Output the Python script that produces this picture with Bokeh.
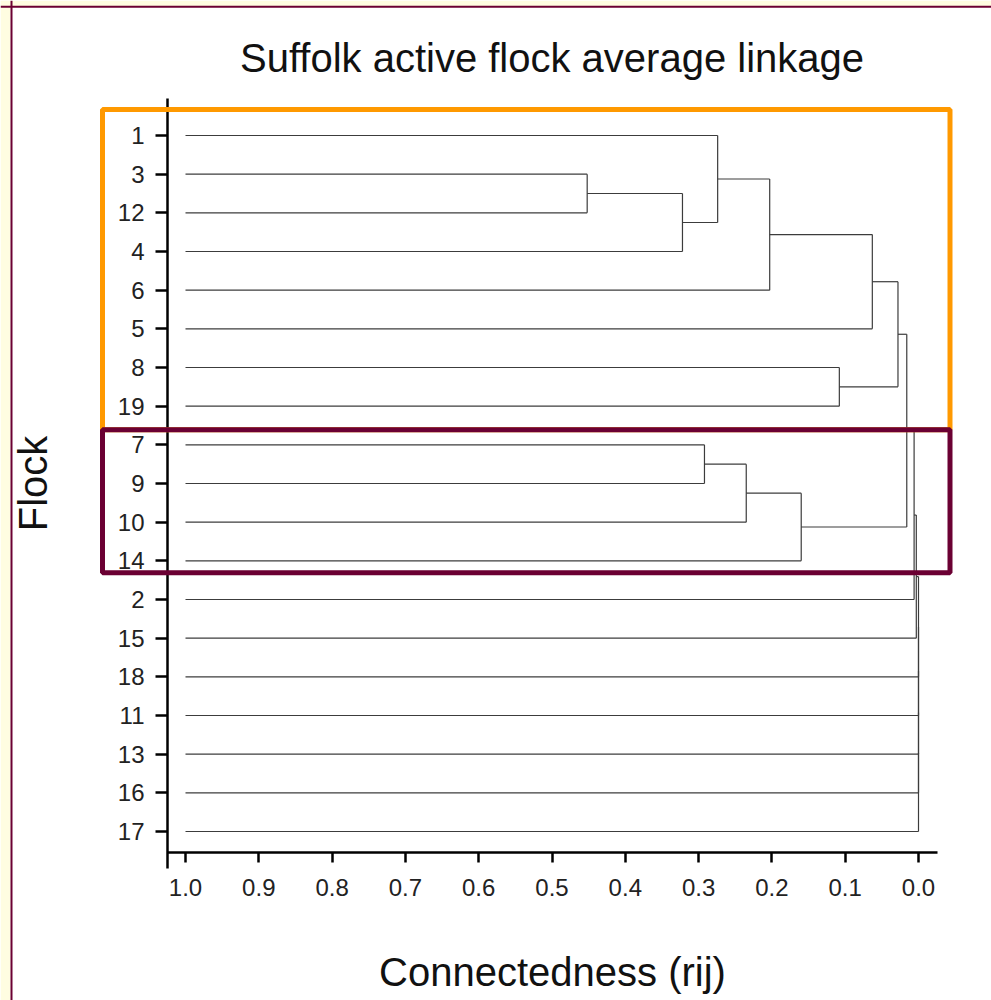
from bokeh.plotting import figure
from bokeh.models import (Range1d, LinearAxis, FixedTicker, BoxAnnotation, Span,
                          Label, ColumnDataSource, PrintfTickFormatter)
from bokeh.embed import file_html
from bokeh.resources import INLINE

# ---------------- data ----------------
leaves = ["1", "3", "12", "4", "6", "5", "8", "19", "7", "9", "10", "14",
          "2", "15", "18", "11", "13", "16", "17"]
# merges in order; new cluster k is named "c<k>"
merge_left = ["3", "c0", "1", "c2", "c3", "8", "c4", "7", "c7", "c8",
              "c6", "c10", "c11", "c12", "c13", "c14", "c15", "c16"]
merge_right = ["12", "4", "c1", "6", "5", "19", "c5", "9", "10", "14",
               "c9", "2", "15", "18", "11", "13", "16", "17"]
merge_height = [0.452, 0.322, 0.274, 0.203, 0.063, 0.108, 0.028, 0.292, 0.235, 0.160,
                0.016, 0.006, 0.003, 0.0, 0.0, 0.0, 0.0, 0.0]
leaf_start = 1.0
x_ticks = [1.0, 0.9, 0.8, 0.7, 0.6, 0.5, 0.4, 0.3, 0.2, 0.1, 0.0]
orange_group = ["1", "19"]     # first and last leaf of the orange box
maroon_group = ["7", "14"]     # first and last leaf of the maroon box

# ---------------- layout constants (pixels) ----------------
W, H = 991, 1000
X_AT_ONE, PX_PER_UNIT = 185.0, 733.0
Y_AT_FIRST, PX_PER_LEAF = 135.0, 38.667


def px2v(px):
    return 1.0 - (px - X_AT_ONE) / PX_PER_UNIT


def py2i(py):
    return (py - Y_AT_FIRST) / PX_PER_LEAF


# ---------------- dendrogram geometry from data ----------------
pos_y = {lab: i for i, lab in enumerate(leaves)}
pos_x = {lab: leaf_start for lab in leaves}
x0, y0, x1, y1 = [], [], [], []
for k, (a, b, h) in enumerate(zip(merge_left, merge_right, merge_height)):
    ya, yb = pos_y[a], pos_y[b]
    # horizontal branches
    x0 += [pos_x[a], pos_x[b]]
    y0 += [ya, yb]
    x1 += [h, h]
    y1 += [ya, yb]
    # vertical connector
    x0.append(h); y0.append(ya); x1.append(h); y1.append(yb)
    name = "c%d" % k
    pos_y[name] = (ya + yb) / 2.0
    pos_x[name] = h

src = ColumnDataSource(dict(x0=x0, y0=y0, x1=x1, y1=y1))

p = figure(width=W, height=H,
           x_range=Range1d(px2v(0), px2v(W)),
           y_range=Range1d(py2i(H), py2i(0)),
           x_axis_location=None, y_axis_location=None,
           toolbar_location=None, output_backend="svg", title=None,
           min_border=0, background_fill_color="white",
           border_fill_color="white", outline_line_color=None)
p.grid.grid_line_color = None

# page frame: cream margin with maroon edge
CREAM = "#FFFDE1"
MAROON = "#6B0033"
p.add_layout(BoxAnnotation(left=px2v(0), right=px2v(10), top=py2i(0), bottom=py2i(H),
                           fill_color=CREAM, fill_alpha=1, line_alpha=0, level="underlay"))
p.add_layout(BoxAnnotation(left=px2v(0), right=px2v(W), top=py2i(0), bottom=py2i(5.5),
                           fill_color=CREAM, fill_alpha=1, line_alpha=0, level="underlay"))
p.add_layout(Span(location=px2v(11), dimension="height", line_color=MAROON, line_width=2))
p.add_layout(Span(location=py2i(6.3), dimension="width", line_color=MAROON, line_width=2))

p.segment("x0", "y0", "x1", "y1", source=src, line_color="#3c3c3c", line_width=1.2)

FONT = "Liberation Sans"

xa = LinearAxis(fixed_location=py2i(852), bounds=(px2v(937), px2v(167)),
                ticker=FixedTicker(ticks=x_ticks, minor_ticks=[]),
                formatter=PrintfTickFormatter(format="%.1f"),
                axis_label="Connectedness (rij)")
ya_ = LinearAxis(fixed_location=px2v(167), bounds=(py2i(98), py2i(868)),
                 ticker=FixedTicker(ticks=list(range(len(leaves))), minor_ticks=[]),
                 major_label_overrides={i: lab for i, lab in enumerate(leaves)},
                 axis_label="Flock")
for ax, tick_out, lab_standoff, axl_standoff in ((xa, 10, 16, 51), (ya_, 12, 11, 60)):
    ax.axis_line_color = "black"
    ax.axis_line_width = 2.5
    ax.major_tick_line_color = "black"
    ax.major_tick_line_width = 2.5
    ax.major_tick_out = tick_out
    ax.major_tick_in = 0
    ax.minor_tick_out = 0
    ax.minor_tick_in = 0
    ax.major_label_text_font = FONT
    ax.major_label_text_font_size = "24px"
    ax.major_label_text_color = "#222222"
    ax.major_label_standoff = lab_standoff
    ax.axis_label_text_font = FONT
    ax.axis_label_text_font_size = "40px"
    ax.axis_label_text_font_style = "normal"
    ax.axis_label_text_color = "#111111"
    ax.axis_label_standoff = axl_standoff
p.add_layout(xa, "below")
p.add_layout(ya_, "left")

# title
p.add_layout(Label(x=0.5, y=py2i(57.5), text="Suffolk active flock average linkage",
                   text_font=FONT, text_font_size="40px", text_color="#111111",
                   text_align="center", text_baseline="alphabetic"))

# highlight boxes
BOX_LEFT = px2v(102)
BOX_RIGHT = px2v(949.5)
orange = BoxAnnotation(left=BOX_RIGHT, right=BOX_LEFT,
                       top=pos_y[orange_group[0]] - 0.67, bottom=pos_y[orange_group[1]] + 0.61,
                       fill_alpha=0, line_color="#FF9900", line_alpha=1, line_width=5,
                       level="overlay")
maroon = BoxAnnotation(left=BOX_RIGHT, right=BOX_LEFT,
                       top=pos_y[maroon_group[0]] - 0.39, bottom=pos_y[maroon_group[1]] + 0.31,
                       fill_alpha=0, line_color=MAROON, line_alpha=1, line_width=5,
                       level="overlay")
p.add_layout(orange)
p.add_layout(maroon)

open("out.html", "w").write(file_html(p, INLINE))
